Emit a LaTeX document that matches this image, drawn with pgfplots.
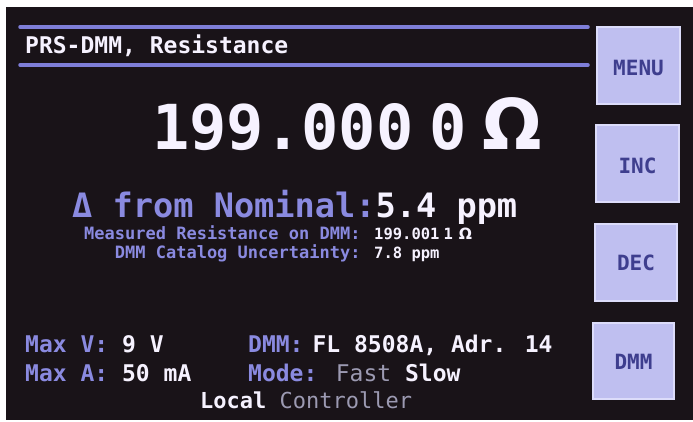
\documentclass[border=0pt]{standalone}
\usepackage{fontspec}
\usepackage{pgfplots}
\pgfplotsset{compat=1.18}
\newfontfamily\scr{DejaVu Sans Mono}
\newfontfamily\scrs{DejaVu Sans}
\newcommand\fs[1]{\fontsize{#1}{#1}\selectfont}
\definecolor{bg}{HTML}{191318}
\definecolor{lav}{HTML}{8A8AE0}
\definecolor{rule}{HTML}{7E7ED8}
\definecolor{wht}{HTML}{F6F2FF}
\definecolor{gry}{HTML}{9C9AB2}
\definecolor{btn}{HTML}{BFBFF0}
\definecolor{btnedge}{HTML}{DCDCFA}
\definecolor{btntxt}{HTML}{3E3E8E}
\begin{document}
\begin{tikzpicture}
\begin{axis}[scale only axis, width=693pt, height=422pt,
  xmin=0, xmax=693, ymin=0, ymax=422, y dir=reverse,
  axis lines=none, clip=false]
\fill[white] (axis cs:0,0) rectangle (axis cs:693,422);
\fill[bg] (axis cs:6,7) rectangle (axis cs:693,420);
% rules
\addplot[rule, line width=3.5pt, line cap=round] coordinates {(20,27) (588,27)};
\addplot[rule, line width=3.5pt, line cap=round] coordinates {(20,65) (588,65)};
% title
\node[anchor=base west, inner sep=0, text=wht] at (axis cs:25,54) {\scr\bfseries\fs{23}PRS-DMM, Resistance};
% big reading
\node[anchor=base west, inner sep=0, text=wht] at (axis cs:152,150) {\scr\bfseries\fs{62}199.000\hspace{16pt}0\hspace{16pt}{\scrs\bfseries\fs{70}Ω}};
% delta
\node[anchor=base west, inner sep=0, text=lav] at (axis cs:72,217) {\scr\bfseries\fs{33.6}Δ from Nominal:\textcolor{wht}{5.4 ppm}};
\node[anchor=base west, inner sep=0, text=lav] at (axis cs:84,240) {\scr\bfseries\fs{17}Measured Resistance on DMM:};
\node[anchor=base west, inner sep=0, text=wht] at (axis cs:374,240) {\scr\bfseries\fs{15.5}199.001\hspace{4pt}1\hspace{6pt}{\scrs\bfseries Ω}};
\node[anchor=base west, inner sep=0, text=lav] at (axis cs:114.7,258) {\scr\bfseries\fs{17}DMM Catalog Uncertainty:};
\node[anchor=base west, inner sep=0, text=wht] at (axis cs:374,258) {\scr\bfseries\fs{15.5}7.8 ppm};
% bottom block
\node[anchor=base west, inner sep=0, text=lav] at (axis cs:25,352) {\scr\bfseries\fs{23}Max V: \textcolor{wht}{9 V}};
\node[anchor=base west, inner sep=0, text=lav] at (axis cs:25,381) {\scr\bfseries\fs{23}Max A: \textcolor{wht}{50 mA}};
\node[anchor=base west, inner sep=0, text=lav] at (axis cs:248,352) {\scr\bfseries\fs{23}DMM:\hspace{9pt}\textcolor{wht}{FL 8508A, Adr. 14}};
\node[anchor=base west, inner sep=0, text=lav] at (axis cs:248,381) {\scr\bfseries\fs{23}Mode: \textcolor{gry}{\mdseries Fast} \textcolor{wht}{Slow}};
\node[anchor=base west, inner sep=0, text=wht] at (axis cs:200,408) {\scr\bfseries\fs{22}Local \textcolor{gry}{\mdseries Controller}};
% buttons
\filldraw[fill=btn, draw=btnedge, line width=1.5pt] (axis cs:597,27) rectangle (axis cs:680,104);
\filldraw[fill=btn, draw=btnedge, line width=1.5pt] (axis cs:596,125) rectangle (axis cs:679,202);
\filldraw[fill=btn, draw=btnedge, line width=1.5pt] (axis cs:595,224) rectangle (axis cs:677,301);
\filldraw[fill=btn, draw=btnedge, line width=1.5pt] (axis cs:593,323) rectangle (axis cs:674,399);
\node[text=btntxt, inner sep=0] at (axis cs:638.5,68) {\scr\bfseries\fs{21}MENU};
\node[text=btntxt, inner sep=0] at (axis cs:637.5,166) {\scr\bfseries\fs{21}INC};
\node[text=btntxt, inner sep=0] at (axis cs:636,263) {\scr\bfseries\fs{21}DEC};
\node[text=btntxt, inner sep=0] at (axis cs:633.5,362) {\scr\bfseries\fs{21}DMM};
\end{axis}
\end{tikzpicture}
\end{document}
